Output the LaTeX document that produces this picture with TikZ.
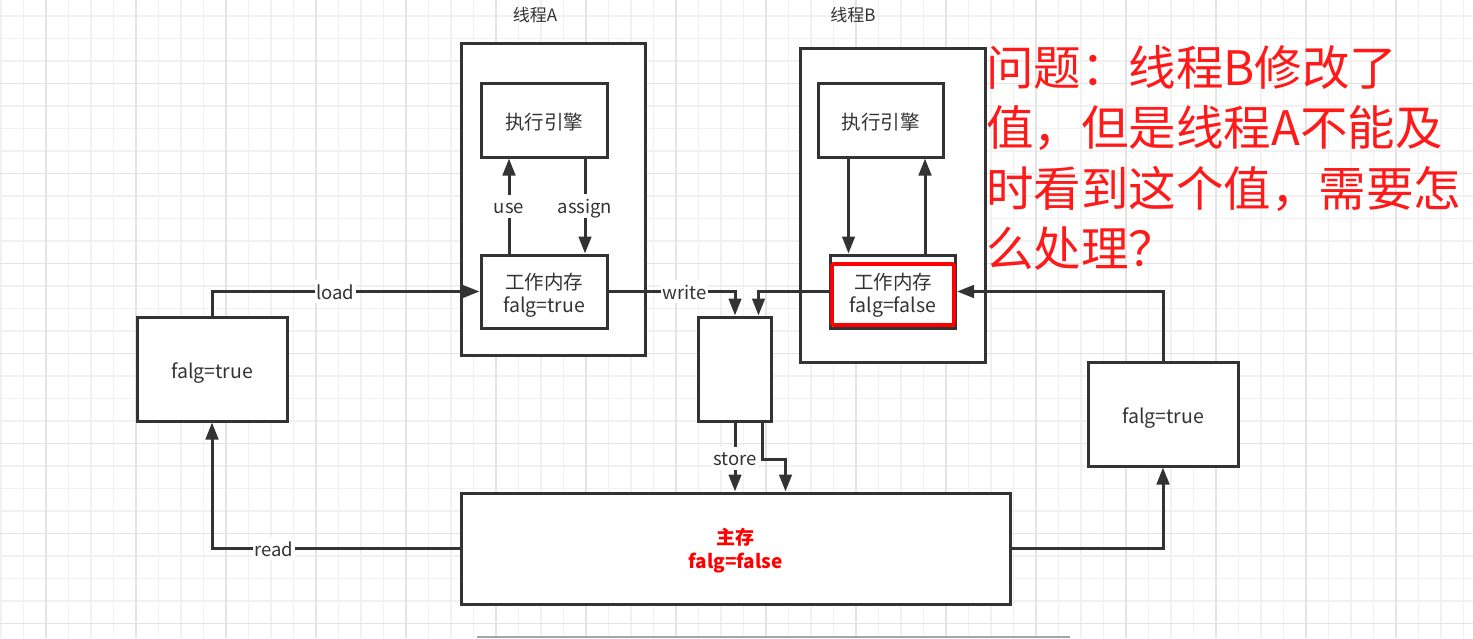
\documentclass[tikz,border=0pt]{standalone}
\usepackage{fontspec}
\setmainfont{Noto Sans CJK SC}
\usetikzlibrary{arrows.meta}
\definecolor{ln}{HTML}{333333}
\definecolor{gminor}{HTML}{F1F1F1}
\definecolor{gmajor}{HTML}{E4E4E4}
\definecolor{qred}{HTML}{FF1A1A}
\newcommand{\lowtxt}[2][5pt]{\raisebox{-#1}[\height][\depth]{\begin{tabular}{@{}c@{}}#2\end{tabular}}}
\begin{document}
\begin{tikzpicture}[x=1pt,y=-1pt,
  box/.style={draw=ln, line width=3pt, fill=white, text=ln, inner sep=0pt, align=center,
    font=\fontsize{19.5}{23}\selectfont},
  frame/.style={draw=ln, line width=3pt, fill=white, inner sep=0pt},
  redbox/.style={draw=red, line width=3.6pt, rounded corners=1.5pt, inner sep=0pt},
  lbl/.style={fill=white, inner sep=1.5pt, text=ln, font=\fontsize{18.5}{20}\selectfont},
  title/.style={text=ln, inner sep=0pt, font=\fontsize{17}{20}\selectfont},
  conn/.style={draw=ln, line width=3pt, -{Triangle[length=17pt,width=12.5pt]}},
  line/.style={draw=ln, line width=3pt}]
\useasboundingbox (0,0) rectangle (1473,638);
\fill[white] (0,0) rectangle (1473,638);
% grid
\foreach \k in {0,...,65} {\draw[gminor, line width=1.4pt] ({1+22.5*\k},0) -- ({1+22.5*\k},638);}
\foreach \k in {-1,...,28} {\draw[gminor, line width=1.4pt] (0,{16+22.5*\k}) -- (1473,{16+22.5*\k});}
\foreach \k in {0,...,16} {\draw[gmajor, line width=1.6pt] ({46+90*\k},0) -- ({46+90*\k},638);}
\foreach \k in {-1,...,6} {\draw[gmajor, line width=1.6pt] (0,{83.5+90*\k}) -- (1473,{83.5+90*\k});}
\draw[gray!70, line width=1.5pt] (477,637) -- (1070,637);

% titles
\node[title] (tA) at (535,15) {线程A};
\node[title] (tB) at (853,15) {线程B};

% thread frames
\node[frame, minimum width=184pt, minimum height=312pt] (thA) at (553,199) {};
\node[frame, minimum width=185pt, minimum height=314pt] (thB) at (892.5,205) {};

% inner boxes
\node[box, minimum width=126pt, minimum height=74pt] (engA) at (544,120) {\lowtxt{执行引擎}};
\node[box, minimum width=126pt, minimum height=73pt] (wmA) at (544,291.5) {\lowtxt[4.5pt]{工作内存\\falg=true}};
\node[box, minimum width=125pt, minimum height=74pt] (engB) at (880.5,120) {\lowtxt{执行引擎}};
\node[box, minimum width=125pt, minimum height=73pt] (wmB) at (893,291.5) {\lowtxt[4.5pt]{工作内存\\falg=false}};
\node[redbox, minimum width=122pt, minimum height=61pt] (wmBred) at (893,294.5) {};

\node[box, minimum width=150pt, minimum height=104pt] (left) at (212,369) {\lowtxt{falg=true}};
\node[box, minimum width=150pt, minimum height=104pt] (right) at (1163,414) {\lowtxt{falg=true}};
\node[box, minimum width=73pt, minimum height=104pt] (mid) at (734.5,369) {};
\node[box, minimum width=549pt, minimum height=111pt, text=red,
  font=\fontsize{19}{24}\selectfont\bfseries] (main) at (735.5,548.5) {\lowtxt[3.5pt]{主存\\falg=false}};

% connectors inside thread A
\draw[conn] ([xshift=-35pt]wmA.north) -- ([xshift=-35pt]engA.south) node[lbl, midway] {\lowtxt[3.5pt]{use}};
\draw[conn] ([xshift=41pt]engA.south) -- ([xshift=41pt]wmA.north) node[lbl, midway] {\lowtxt[3.5pt]{assign}};
% connectors inside thread B
\draw[conn] ([xshift=-32pt]engB.south) -- ([xshift=-32pt]engB.south |- wmB.north);
\draw[conn] ([xshift=44.5pt]engB.south |- wmB.north) -- ([xshift=44.5pt]engB.south);

% load / read
\draw[conn] (left.north) |- (wmA.west) node[lbl, pos=0.73] {\lowtxt[3.5pt]{load}};
\draw[conn] (main.west) -| (left.south) node[lbl, pos=0.375] {\lowtxt[3.5pt]{read}};
% right side
\draw[conn] (right.north) |- (wmB.east);
\draw[conn] (main.east) -| (right.south);
% write
\draw[conn] (wmA.east) -| ([xshift=0.5pt]mid.north) node[lbl, pos=0.3] {\lowtxt[3.5pt]{write}};
\draw[conn] (wmB.west) -| ([xshift=24pt]mid.north);
% store
\draw[conn] ([xshift=0.5pt]mid.south) -- ([xshift=0.5pt]mid.south |- main.north) node[lbl, pos=0.52] {\lowtxt[3.5pt]{store}};
\draw[conn] ([xshift=28pt]mid.south) -- ++(0,37) -| ([xshift=50pt]main.north);

% question
\node[anchor=north west, inner sep=0pt, align=left, text=qred,
  font=\fontsize{47.5}{60.5}\selectfont] (q) at (986,45)
  {问题：线程B修改了\\值，但是线程A不能及\\时看到这个值，需要怎\\么处理？};
\end{tikzpicture}
\end{document}
